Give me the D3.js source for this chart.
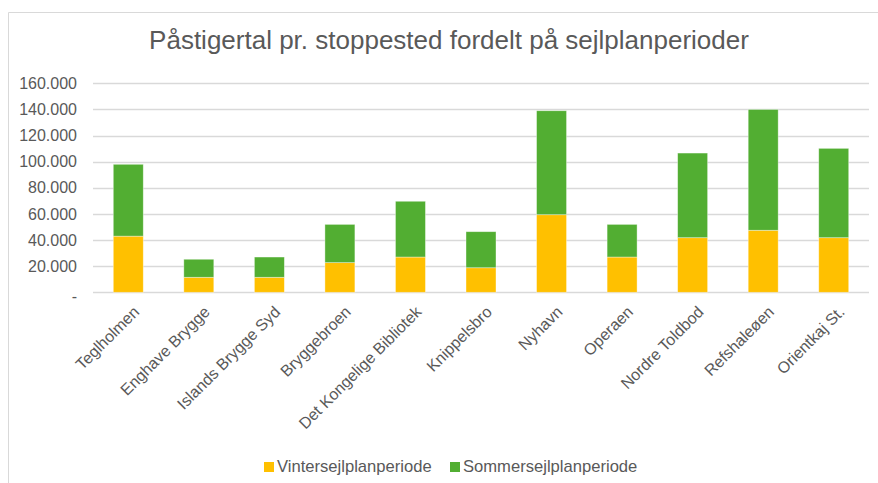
<!doctype html>
<html>
<head>
<meta charset="utf-8">
<script src="https://d3js.org/d3.v7.min.js"></script>
<style>
  body { margin: 0; background: #fff; }
  text { font-family: "Liberation Sans", Arial, sans-serif; fill: #595959; }
</style>
</head>
<body>
<svg width="878" height="483"></svg>
<script>
var categories = ["Teglholmen", "Enghave Brygge", "Islands Brygge Syd", "Bryggebroen",
                  "Det Kongelige Bibliotek", "Knippelsbro", "Nyhavn", "Operaen",
                  "Nordre Toldbod", "Refshaleøen", "Orientkaj St."];
var seriesNames = ["Vintersejlplanperiode", "Sommersejlplanperiode"];
var winter = [43000, 11500, 11500, 22700, 27000, 18800, 59400, 27000, 41800, 47500, 41800];
var summer = [55000, 13800, 15500, 29300, 42700, 27600, 79600, 25000, 64800, 92500, 68400];
var yTicks = [0, 20000, 40000, 60000, 80000, 100000, 120000, 140000, 160000];
var colors = ["#FFC000", "#52AE32"];

var svg = d3.select("svg");

// frame of the chart area
svg.append("path")
   .attr("d", "M8.5,483 V12.5 H878")
   .attr("fill", "none")
   .attr("stroke", "#d9d9d9");

svg.append("text")
   .attr("x", 449)
   .attr("y", 49)
   .attr("text-anchor", "middle")
   .attr("font-size", "26px")
   .text("Påstigertal pr. stoppested fordelt på sejlplanperioder");

var x = d3.scaleBand().domain(categories).range([93, 869]).paddingInner(0.575).paddingOuter(0.2875);
var y = d3.scaleLinear().domain([0, 160000]).range([292.3, 83.3]);

var loc = d3.formatLocale({decimal: ",", thousands: ".", grouping: [3], currency: ["", ""]});
var fmt = loc.format(",.0f");

// gridlines
svg.append("g")
   .selectAll("line")
   .data(yTicks)
   .enter().append("line")
   .attr("x1", 93).attr("x2", 869)
   .attr("y1", function(d) { return Math.round(y(d)) + 0.5; })
   .attr("y2", function(d) { return Math.round(y(d)) + 0.5; })
   .attr("stroke", "#d9d9d9")
   .attr("stroke-width", 1.5);

// y axis labels
var yAxis = svg.append("g")
   .attr("transform", "translate(77,0)")
   .call(d3.axisLeft(y).tickValues(yTicks).tickSize(0).tickPadding(0)
          .tickFormat(function(d) { return d === 0 ? "-" : fmt(d); }));
yAxis.select(".domain").remove();
yAxis.selectAll("text")
     .attr("font-size", "16px")
     .attr("font-family", "Liberation Sans, Arial, sans-serif")
     .attr("fill", "#595959");
yAxis.selectAll(".tick").filter(function(d) { return d === 0; }).select("text").attr("dy", "0.6em");

// stacked bars
var rows = categories.map(function(c, i) {
  return {name: c, Vintersejlplanperiode: winter[i], Sommersejlplanperiode: summer[i]};
});
var stack = d3.stack().keys(seriesNames)(rows);

svg.append("g")
   .selectAll("g")
   .data(stack)
   .enter().append("g")
   .attr("fill", function(d, i) { return colors[i]; })
   .selectAll("rect")
   .data(function(d) { return d; })
   .enter().append("rect")
   .attr("x", function(d) { return x(d.data.name); })
   .attr("y", function(d) { return y(d[1]); })
   .attr("width", x.bandwidth())
   .attr("height", function(d) { return y(d[0]) - y(d[1]); })
   .attr("stroke", "#ffffff")
   .attr("stroke-opacity", 0.5)
   .attr("stroke-width", 0.75);

// x axis labels
var xAxis = svg.append("g")
   .attr("transform", "translate(0,300)")
   .call(d3.axisBottom(x).tickSize(0).tickPadding(0));
xAxis.select(".domain").remove();
xAxis.selectAll("text")
     .attr("font-size", "16px")
     .attr("font-family", "Liberation Sans, Arial, sans-serif")
     .attr("fill", "#595959")
     .attr("text-anchor", "end")
     .attr("transform", "translate(4,5) rotate(-45)")
     .attr("dy", "0.7em");

// legend
var legendX = [264, 450];
var legend = svg.append("g")
   .selectAll("g")
   .data(seriesNames)
   .enter().append("g")
   .attr("transform", function(d, i) { return "translate(" + legendX[i] + ",462)"; });
legend.append("rect")
   .attr("width", 10).attr("height", 10)
   .attr("fill", function(d, i) { return colors[i]; });
legend.append("text")
   .attr("x", 13)
   .attr("y", 10)
   .attr("font-size", "16.6px")
   .text(function(d) { return d; });
</script>
</body>
</html>
